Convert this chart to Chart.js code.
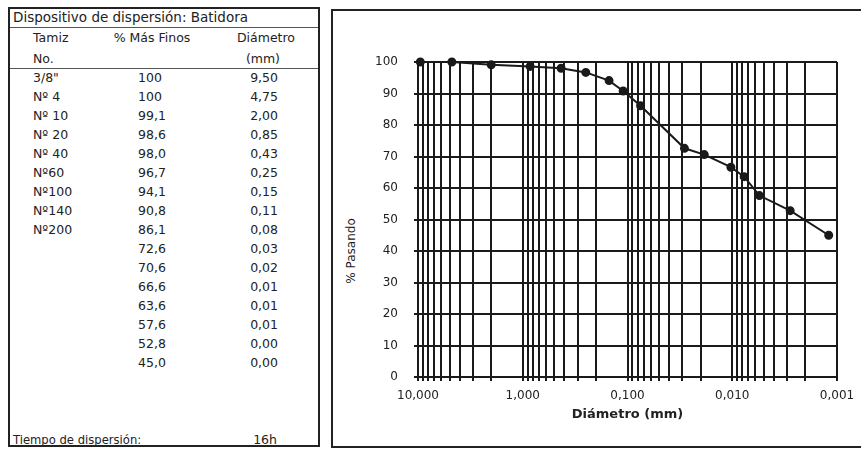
<!DOCTYPE html>
<html>
<head>
<meta charset="utf-8">
<script src="https://cdn.jsdelivr.net/npm/chart.js@4/dist/chart.umd.min.js"></script>
<style>
  body { margin: 0; width: 861px; height: 449px; overflow: hidden; position: relative; background: #fff; font-family: "DejaVu Sans", sans-serif; color: #222; }
  .box { position: absolute; border: 2px solid #222; box-sizing: border-box; }
  .hl { position: absolute; height: 1px; background: #555; }
  .t { position: absolute; line-height: 16px; font-size: 12.5px; white-space: nowrap; }
  #ytitle { position: absolute; left: 351px; top: 251px; font-size: 12px; white-space: nowrap; transform: translate(-50%, -50%) rotate(-90deg); }
  #chart { position: absolute; left: 331px; top: 10px; }
</style>
</head>
<body>
<div class="box" style="left:8px; top:7px; width:312px; height:440px;"></div>
<div class="hl" style="left:10px; top:27px; width:308px;"></div>
<div class="hl" style="left:10px; top:68px; width:308px;"></div>
<div class="box" style="left:331px; top:9px; width:560px; height:439px; border-right:none;"></div>
<div id="ytitle">% Pasando</div>
<canvas id="chart" width="530" height="437"></canvas>
<script>
  // datos del ensayo (dispersión con batidora)
  const tamiz = ['3/8"', 'Nº 4', 'Nº 10', 'Nº 20', 'Nº 40', 'Nº60', 'Nº100', 'Nº140', 'Nº200'];
  const pasando = [100, 100, 99.1, 98.6, 98.0, 96.7, 94.1, 90.8, 86.1, 72.6, 70.6, 66.6, 63.6, 57.6, 52.8, 45.0];
  const diamTabla = ['9,50', '4,75', '2,00', '0,85', '0,43', '0,25', '0,15', '0,11', '0,08', '0,03', '0,02', '0,01', '0,01', '0,01', '0,00', '0,00'];
  const diametro = [9.5, 4.75, 2.0, 0.85, 0.43, 0.25, 0.15, 0.11, 0.075, 0.0286, 0.0185, 0.0103, 0.0077, 0.0055, 0.0028, 0.0012];
  const decadas = [10, 1, 0.1, 0.01, 0.001];
  const etiquetasX = ['10,000', '1,000', '0,100', '0,010', '0,001'];

  function put(text, x, y, align, size) {
    const d = document.createElement('div');
    d.className = 't';
    d.textContent = text;
    d.style.top = (y - 8) + 'px';
    if (align === 'right') d.style.right = (861 - x) + 'px';
    else if (align === 'center') { d.style.left = (x - 100) + 'px'; d.style.width = '200px'; d.style.textAlign = 'center'; }
    else d.style.left = x + 'px';
    if (size) d.style.fontSize = size + 'px';
    document.body.appendChild(d);
  }

  // tabla
  put('Dispositivo de dispersión: Batidora', 13, 17, 'left', 13.5);
  put('Tamiz', 33, 38);
  put('No.', 33, 59);
  put('% Más Finos', 152, 38, 'center');
  put('Diámetro', 295, 38, 'right');
  put('(mm)', 280, 59, 'right');
  pasando.forEach((v, i) => {
    const y = 78 + i * 19;
    if (tamiz[i]) put(tamiz[i], 33, y);
    put(v === 100 ? '100' : v.toFixed(1).replace('.', ','), 138, y);
    put(diamTabla[i], 278, y, 'right');
  });
  put('Tiempo de dispersión:', 13, 440, 'left', 11.6);
  put('16h', 277, 440, 'right');

  // lineas de grilla: 1..9 por cada decada
  const gridX = [];
  [0.001, 0.01, 0.1, 1].forEach(d => {
    for (let m = 1; m <= 9; m++) gridX.push(Number((m * d).toPrecision(6)));
  });
  gridX.push(10);

  const ink = '#1a1a1a';
  const tickFont = { family: "'DejaVu Sans'", size: 12 };

  new Chart(document.getElementById('chart'), {
    type: 'line',
    data: {
      datasets: [{
        data: diametro.map((d, i) => ({ x: d, y: pasando[i] })),
        borderColor: ink,
        backgroundColor: ink,
        borderWidth: 2,
        pointRadius: 3.5,
        pointBackgroundColor: ink,
        pointBorderColor: ink,
        tension: 0,
        clip: false,
      }],
    },
    options: {
      responsive: false,
      animation: false,
      devicePixelRatio: 1,
      layout: { padding: { top: 52, right: 24, left: 0, bottom: 0 } },
      plugins: { legend: { display: false }, tooltip: { enabled: false } },
      scales: {
        x: {
          type: 'logarithmic',
          reverse: true,
          min: 0.001,
          max: 10,
          afterBuildTicks: scale => { scale.ticks = gridX.map(v => ({ value: v })); },
          afterFit: scale => { scale.height = 70; },
          grid: { color: ink, lineWidth: 2, tickLength: 4 },
          border: { color: ink, width: 2 },
          ticks: {
            autoSkip: false,
            maxRotation: 0,
            padding: 8,
            color: '#222',
            font: tickFont,
            callback: v => {
              const i = decadas.findIndex(d => Math.abs(d - v) / d < 1e-6);
              return i >= 0 ? etiquetasX[i] : '';
            },
          },
          title: {
            display: true,
            text: 'Diámetro (mm)',
            color: '#222',
            font: { family: "'DejaVu Sans'", size: 13, weight: 'bold' },
            padding: { top: 0, bottom: 25 },
          },
        },
        y: {
          min: 0,
          max: 100,
          afterFit: scale => { scale.width = 87; },
          grid: { color: ink, lineWidth: 2, tickLength: 4 },
          border: { color: ink, width: 2 },
          ticks: { stepSize: 10, padding: 16, color: '#222', font: tickFont },
        },
      },
    },
  });
</script>
</body>
</html>
